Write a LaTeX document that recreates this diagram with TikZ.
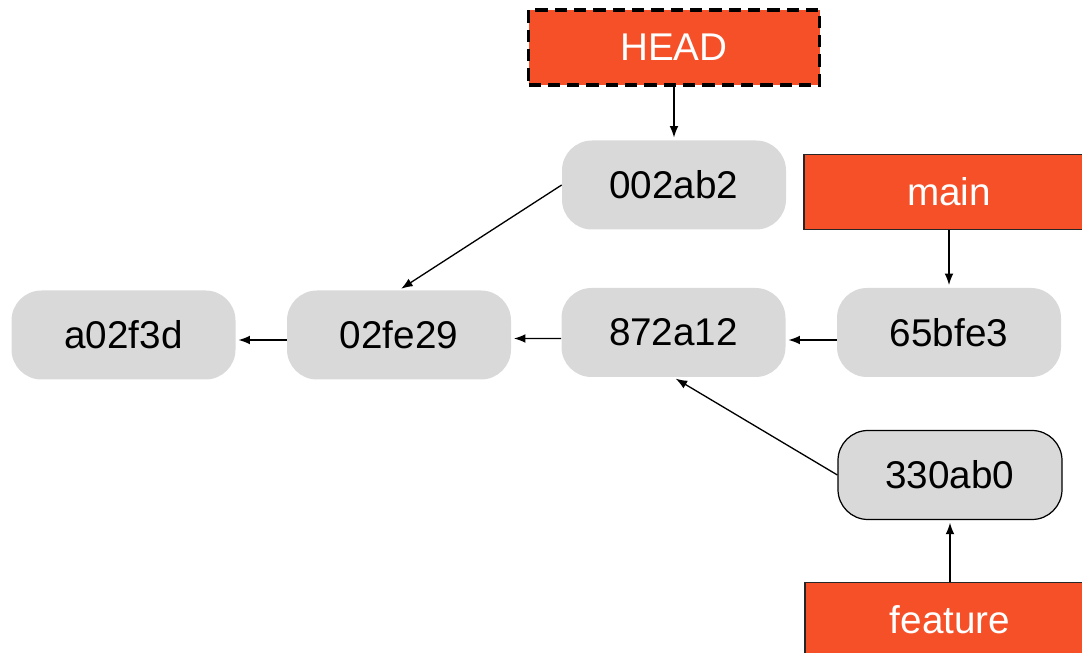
\documentclass[tikz,border=0pt]{standalone}
\usepackage{fontspec}
\setmainfont{Liberation Sans}
\usetikzlibrary{arrows.meta}
\definecolor{refred}{RGB}{245,80,40}
\definecolor{commitgray}{RGB}{217,217,217}

\begin{document}
\begin{tikzpicture}[
  commit/.style={fill=commitgray, rounded corners=0.6cm, minimum width=4.48cm, minimum height=1.78cm, inner sep=0pt, font=\fontsize{22}{26}\selectfont},
  branch/.style={fill=refred, draw=black!85, line width=0.7pt, text=white, minimum width=5.8cm, minimum height=1.5cm, inner sep=0pt, font=\fontsize{22}{26}\selectfont},
  link/.style={-{Latex[length=6.5pt,width=5pt]}, line width=0.75pt, shorten >=1.5pt}]
\useasboundingbox (0,0) rectangle (21.64,-13.06);
\node[branch, draw=black, line width=2pt, dash pattern=on 7pt off 4pt, minimum width=5.82cm] (head) at (13.48,-0.95) {HEAD};
\node[commit] (c002ab2) at (13.48,-3.7) {002ab2};
\node[branch] (main) at (18.98,-3.84) {main};
\node[commit] (a02f3d) at (2.47,-6.7) {a02f3d};
\node[commit] (c02fe29) at (7.98,-6.7) {02fe29};
\node[commit] (c872a12) at (13.47,-6.65) {872a12};
\node[commit] (c65bfe3) at (18.98,-6.65) {65bfe3};
\node[commit, draw=black, line width=0.7pt] (c330ab0) at (19.0,-9.5) {330ab0};
\node[branch] (feature) at (19.0,-12.4) {feature};
% pointers
\draw[link] (head) -- (c002ab2);
\draw[link] (main) -- (c65bfe3);
\draw[link] (feature) -- (c330ab0);
% parents
\draw[link] (c002ab2.west) -- (c02fe29.north);
\draw[link] ([yshift=-0.1cm]c02fe29.west) -- ([yshift=-0.1cm]a02f3d.east);
\draw[link] ([yshift=-0.12cm]c872a12.west) -- ([yshift=-0.07cm]c02fe29.east);
\draw[link] ([yshift=-0.15cm]c65bfe3.west) -- ([yshift=-0.15cm]c872a12.east);
\draw[link] (c330ab0.west) -- (c872a12.south);
\end{tikzpicture}
\end{document}
